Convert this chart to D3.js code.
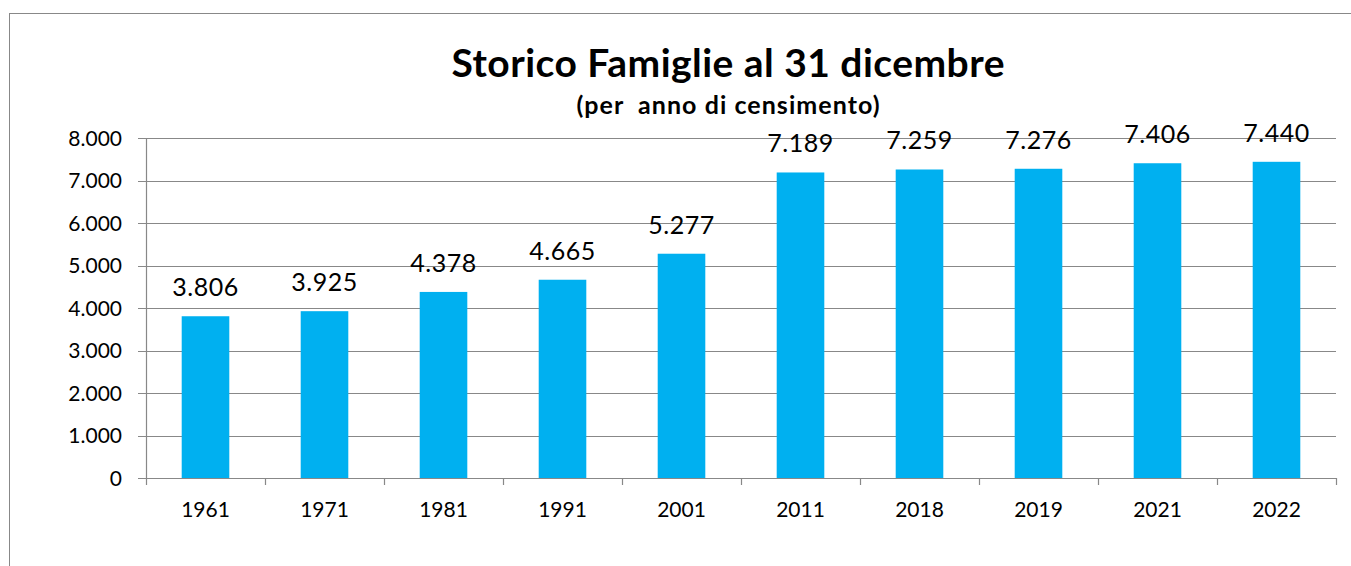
<!DOCTYPE html>
<html>
<head>
<meta charset="utf-8">
<script src="https://cdn.jsdelivr.net/npm/d3@7"></script>
<style>
  body { margin: 0; background: #fff; }
  text { font-family: Lato, "Open Sans", sans-serif; fill: #000; }
</style>
</head>
<body>
<script>
// data
var years = ["1961", "1971", "1981", "1991", "2001", "2011", "2018", "2019", "2021", "2022"];
var families = [3806, 3925, 4378, 4665, 5277, 7189, 7259, 7276, 7406, 7440];
var yTicks = [0, 1000, 2000, 3000, 4000, 5000, 6000, 7000, 8000];

var width = 1351, height = 566;
var margin = {top: 138, right: 15, bottom: 88, left: 146};

var svg = d3.select("body").append("svg")
  .attr("width", width)
  .attr("height", height);

// outer chart frame
svg.append("rect")
  .attr("x", 9.5).attr("y", 13.5)
  .attr("width", width).attr("height", height)
  .attr("fill", "none").attr("stroke", "#888").attr("stroke-width", 1);

var x = d3.scaleBand()
  .domain(years)
  .range([margin.left, width - margin.right])
  .paddingInner(0.6).paddingOuter(0.3);

var y = d3.scaleLinear()
  .domain([0, 8000])
  .range([height - margin.bottom, margin.top]);

var fmt = function(v) { return d3.format(",")(v).replace(/,/g, "."); };

// gridlines
svg.selectAll("line.grid")
  .data(yTicks)
  .enter()
  .append("line")
  .attr("class", "grid")
  .attr("x1", margin.left - 8)
  .attr("x2", width - margin.right)
  .attr("y1", function(d) { return Math.round(y(d)) + 0.5; })
  .attr("y2", function(d) { return Math.round(y(d)) + 0.5; })
  .attr("stroke", "#888").attr("stroke-width", 1.2);

// y axis line
svg.append("line")
  .attr("x1", margin.left + 0.5).attr("x2", margin.left + 0.5)
  .attr("y1", y(8000)).attr("y2", y(0))
  .attr("stroke", "#888").attr("stroke-width", 1.2);

svg.selectAll("text.ylab")
  .data(yTicks)
  .enter()
  .append("text")
  .attr("class", "ylab")
  .attr("x", 122)
  .attr("y", function(d) { return y(d); })
  .attr("dy", "0.36em")
  .attr("text-anchor", "end")
  .style("font-size", "21px")
  .text(fmt);

// bars
svg.selectAll("rect.bar")
  .data(families)
  .enter()
  .append("rect")
  .attr("class", "bar")
  .attr("x", function(d, i) { return x(years[i]); })
  .attr("y", function(d) { return y(d); })
  .attr("width", x.bandwidth())
  .attr("height", function(d) { return y(0) - y(d); })
  .attr("fill", "#00B0F0");

// x axis line + ticks
var step = x.step();
svg.append("line")
  .attr("x1", margin.left).attr("x2", width - margin.right)
  .attr("y1", Math.round(y(0)) + 0.5).attr("y2", Math.round(y(0)) + 0.5)
  .attr("stroke", "#888").attr("stroke-width", 1.2);

var edges = years.map(function(d) { return x(d) - (step - x.bandwidth()) / 2; });
edges.push(width - margin.right);
svg.selectAll("line.xtick")
  .data(edges)
  .enter()
  .append("line")
  .attr("class", "xtick")
  .attr("x1", function(d) { return Math.round(d) + 0.5; })
  .attr("x2", function(d) { return Math.round(d) + 0.5; })
  .attr("y1", y(0)).attr("y2", y(0) + 7)
  .attr("stroke", "#888").attr("stroke-width", 1.2);

svg.selectAll("text.xlab")
  .data(years)
  .enter()
  .append("text")
  .attr("class", "xlab")
  .attr("x", function(d) { return x(d) + x.bandwidth() / 2; })
  .attr("y", 517)
  .attr("text-anchor", "middle")
  .style("font-size", "21px")
  .text(function(d) { return d; });

// value labels
svg.selectAll("text.val")
  .data(families)
  .enter()
  .append("text")
  .attr("class", "val")
  .attr("x", function(d, i) { return x(years[i]) + x.bandwidth() / 2; })
  .attr("y", function(d) { return y(d) - 20; })
  .attr("text-anchor", "middle")
  .style("font-size", "25px")
  .style("letter-spacing", "0.5px")
  .text(fmt);

// titles
svg.append("text")
  .attr("x", 728).attr("y", 77)
  .attr("text-anchor", "middle")
  .attr("textLength", 553).attr("lengthAdjust", "spacing")
  .style("font-size", "39px").style("font-weight", "bold")
  .text("Storico Famiglie al 31 dicembre");

svg.append("text")
  .attr("x", 728).attr("y", 114)
  .attr("text-anchor", "middle")
  .attr("textLength", 303).attr("lengthAdjust", "spacing")
  .style("font-size", "25px").style("font-weight", "bold")
  .style("white-space", "pre")
  .text("(per  anno di censimento)");
</script>
</body>
</html>
